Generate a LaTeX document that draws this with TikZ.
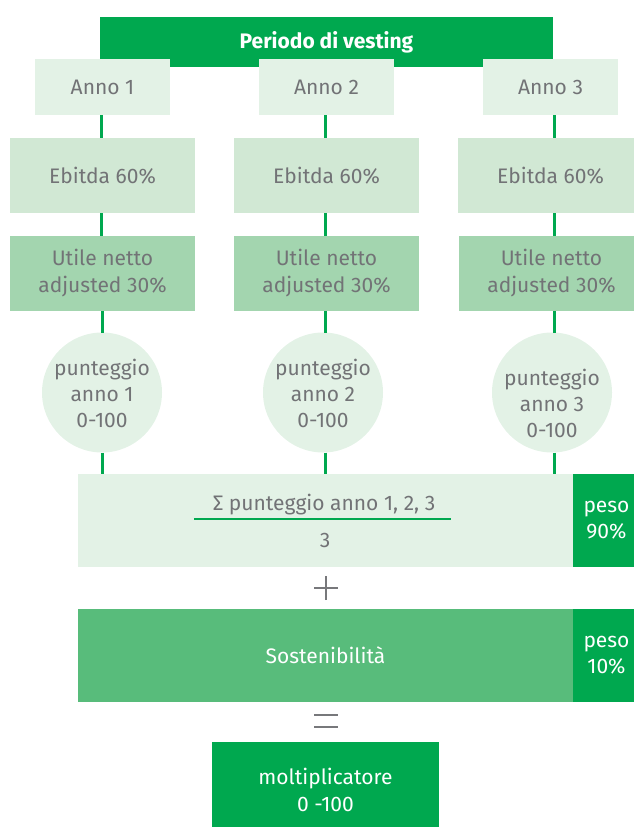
\documentclass[tikz,border=0pt]{standalone}
\usepackage{fontspec}
\setmainfont{Fira Sans}
\definecolor{dgreen}{HTML}{00A84F}
\definecolor{lgreen}{HTML}{E3F2E6}
\definecolor{ebgreen}{HTML}{D1E8D4}
\definecolor{utgreen}{HTML}{A3D5AF}
\definecolor{sgreen}{HTML}{58BC7B}
\definecolor{tgray}{HTML}{727376}
\definecolor{sgray}{HTML}{77787B}
\tikzset{
  box/.style={rectangle, inner sep=0pt, outer sep=0pt, align=center, text=tgray,
    font=\fontsize{21}{27}\selectfont},
  annobox/.style={box, fill=lgreen, minimum width=135pt, minimum height=56pt},
  ebbox/.style={box, fill=ebgreen, minimum width=185pt, minimum height=75pt},
  utbox/.style={box, fill=utgreen, minimum width=185pt, minimum height=75pt},
  circ/.style={circle, fill=lgreen, inner sep=0pt, outer sep=0pt, minimum size=120pt},
  circtext/.style={align=center, text=tgray, inner sep=0pt, font=\fontsize{21}{26}\selectfont},
  pesobox/.style={box, fill=dgreen, text=white, minimum width=67pt, minimum height=93pt,
    font=\fontsize{21}{26}\selectfont},
  conn/.style={draw=dgreen, line width=3pt},
  opsym/.style={draw=sgray, line width=2.6pt},
}
\begin{document}
\begin{tikzpicture}[x=1pt,y=-1pt]
\useasboundingbox (0,0) rectangle (634,827);
% title bar
\node[box, fill=dgreen, text=white, minimum width=453pt, minimum height=50pt,
  font=\fontsize{21}{24}\bfseries\selectfont] (title) at (326.5,42) {Periodo di vesting};
% anno
\node[annobox] (anno1) at (102.5,87) {Anno 1};
\node[annobox] (anno2) at (326.5,87) {Anno 2};
\node[annobox] (anno3) at (550.5,87) {Anno 3};
% ebitda
\node[ebbox] (eb1) at (102.5,175.5) {Ebitda 60\%};
\node[ebbox] (eb2) at (326.5,175.5) {Ebitda 60\%};
\node[ebbox] (eb3) at (550.5,175.5) {Ebitda 60\%};
% utile
\node[utbox] (ut1) at (102.5,273.5) {Utile netto\\adjusted 30\%};
\node[utbox] (ut2) at (326.5,273.5) {Utile netto\\adjusted 30\%};
\node[utbox] (ut3) at (551.5,273.5) {Utile netto\\adjusted 30\%};
% circles
\node[circ] (c1) at (102,392.5) {};
\node[circ] (c2) at (323,392.5) {};
\node[circ] (c3) at (552,392.5) {};
\node[circtext] (c1t) at (102,393) {punteggio\\anno 1\\0-100};
\node[circtext] (c2t) at (323,393) {punteggio\\anno 2\\0-100};
\node[circtext] (c3t) at (552,403) {punteggio\\anno 3\\0-100};
% big box
\node[box, fill=lgreen, minimum width=495pt, minimum height=93pt] (big) at (325.5,520.5) {};
\node[pesobox] (peso1) at (606.5,520.5) {peso\\90\%};
\node[box, font=\fontsize{21}{24}\selectfont] (num) at (324,505) {Σ punteggio anno 1, 2, 3};
\node[box, font=\fontsize{21}{24}\selectfont] (den) at (325,540) {3};
\draw[draw=dgreen, line width=1.5pt] (194,519) -- (451,519);
% plus
\coordinate (plus) at (326,588);
\draw[opsym] ([xshift=-12pt]plus) -- ([xshift=12pt]plus);
\draw[opsym] ([yshift=-12pt]plus) -- ([yshift=12pt]plus);
% sostenibilita
\node[box, fill=sgreen, text=white, minimum width=495pt, minimum height=93pt] (sost) at (325.5,655.5) {Sostenibilità};
\node[pesobox] (peso2) at (606.5,655.5) {peso\\10\%};
% equals
\coordinate (eq) at (326,721);
\draw[opsym] ([xshift=-12pt,yshift=-6pt]eq) -- ([xshift=12pt,yshift=-6pt]eq);
\draw[opsym] ([xshift=-12pt,yshift=6pt]eq) -- ([xshift=12pt,yshift=6pt]eq);
% moltiplicatore
\node[box, fill=dgreen, text=white, minimum width=227pt, minimum height=95pt] (molt) at (325.5,789.5) {moltiplicatore\\0 -100};
% connectors
\foreach \i/\dx in {1/-1.5,2/-1.5,3/3.5}{
  \draw[conn] ([xshift=\dx pt]anno\i.south) -- ([xshift=\dx pt]anno\i.south |- eb\i.north);
  \draw[conn] ([xshift=\dx pt]eb\i.south) -- ([xshift=\dx pt]eb\i.south |- ut\i.north);
}
\draw[conn] (ut1.south -| c1.north) -- (c1.north);
\draw[conn] ([xshift=2pt]c2.north |- ut2.south) -- ([xshift=2pt]c2.north);
\draw[conn] ([xshift=2pt]c3.north |- ut3.south) -- ([xshift=2pt]c3.north);
\draw[conn] (c1.south) -- (c1.south |- big.north);
\draw[conn] ([xshift=2pt]c2.south) -- ([xshift=2pt]c2.south |- big.north);
\draw[conn] ([xshift=2pt]c3.south) -- ([xshift=2pt]c3.south |- big.north);
\end{tikzpicture}
\end{document}
